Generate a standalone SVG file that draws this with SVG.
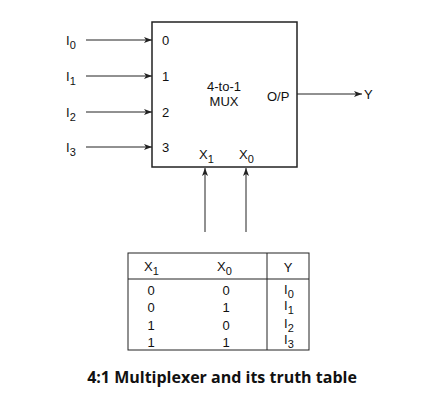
<svg xmlns="http://www.w3.org/2000/svg" width="434" height="403" viewBox="0 0 434 403">
<style>
.t{font-family:"Liberation Sans",Arial,sans-serif;font-size:13px;fill:#111}
.s{font-size:11px}
.ln{stroke:#222;stroke-width:1;fill:none}
.title{font-family:"Open Sans","Liberation Sans",sans-serif;font-weight:bold;font-size:16px;fill:#111}
</style>
<defs>
<marker id="ah" viewBox="0 0 8 6" refX="8" refY="3" markerWidth="8" markerHeight="6" orient="auto" markerUnits="userSpaceOnUse">
<path d="M0,0 L8,3 L0,6 L2,3 Z" fill="#222"/>
</marker>
</defs>
<rect width="434" height="403" fill="#fff"/>
<g id="mux">
<rect x="152" y="22" width="145" height="145" fill="#fff" stroke="#222" stroke-width="1.5"/>
<text class="t" x="162" y="45">0</text>
<text class="t" x="162" y="81">1</text>
<text class="t" x="162" y="117">2</text>
<text class="t" x="162" y="152">3</text>
<text class="t" x="224" y="91" text-anchor="middle">4-to-1</text>
<text class="t" x="224" y="106" text-anchor="middle">MUX</text>
<text class="t" x="267" y="101">O/P</text>
<text class="t" x="199" y="159">X<tspan class="s" dy="4">1</tspan></text>
<text class="t" x="239" y="159">X<tspan class="s" dy="4">0</tspan></text>
</g>
<g id="inputs">
<text class="t" x="66" y="45">I<tspan class="s" dy="4">0</tspan></text>
<text class="t" x="66" y="81">I<tspan class="s" dy="4">1</tspan></text>
<text class="t" x="66" y="117">I<tspan class="s" dy="4">2</tspan></text>
<text class="t" x="66" y="152">I<tspan class="s" dy="4">3</tspan></text>
</g>
<g id="output">
<text class="t" x="364" y="99">Y</text>
</g>
<g id="connectors">
<line class="ln" x1="86" y1="40" x2="152" y2="40" marker-end="url(#ah)"/>
<line class="ln" x1="86" y1="76" x2="152" y2="76" marker-end="url(#ah)"/>
<line class="ln" x1="86" y1="112" x2="152" y2="112" marker-end="url(#ah)"/>
<line class="ln" x1="86" y1="147" x2="152" y2="147" marker-end="url(#ah)"/>
<line class="ln" x1="297" y1="94" x2="362" y2="94" marker-end="url(#ah)"/>
<line class="ln" x1="205" y1="232" x2="205" y2="168" marker-end="url(#ah)" stroke="#555"/>
<line class="ln" x1="246" y1="232" x2="246" y2="168" marker-end="url(#ah)"/>
</g>
<g id="truth-table">
<rect x="128" y="253" width="181" height="97" fill="none" stroke="#222" stroke-width="1"/>
<line class="ln" x1="128" y1="279" x2="309" y2="279"/>
<line class="ln" x1="267" y1="253" x2="267" y2="350"/>
<text class="t" x="144" y="271">X<tspan class="s" dy="4">1</tspan></text>
<text class="t" x="217" y="271">X<tspan class="s" dy="4">0</tspan></text>
<text class="t" x="288" y="272" text-anchor="middle">Y</text>
<g class="t" text-anchor="middle">
<text x="151" y="295">0</text><text x="226" y="295">0</text>
<text x="151" y="312">0</text><text x="226" y="312">1</text>
<text x="151" y="330">1</text><text x="226" y="330">0</text>
<text x="151" y="347">1</text><text x="226" y="347">1</text>
</g>
<text class="t" x="284" y="294">I<tspan class="s" dy="4">0</tspan></text>
<text class="t" x="284" y="310">I<tspan class="s" dy="4">1</tspan></text>
<text class="t" x="284" y="328">I<tspan class="s" dy="4">2</tspan></text>
<text class="t" x="284" y="344">I<tspan class="s" dy="4">3</tspan></text>
</g>
<text class="title" x="222" y="383" text-anchor="middle">4:1 Multiplexer and its truth table</text>
</svg>
